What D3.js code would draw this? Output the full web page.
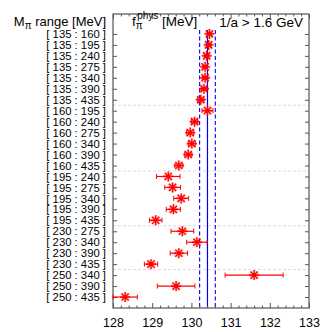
<!DOCTYPE html>
<html>
<head>
<meta charset="utf-8">
<script src="https://cdn.jsdelivr.net/npm/d3@7"></script>
<style>
body { margin: 0; background: #fff; }
text { font-family: "Liberation Sans", Arial, sans-serif; fill: #000; }
</style>
</head>
<body>
<svg id="chart" width="332" height="332"></svg>
<script>
// pion mass ranges [MeV], one row each
var lowMass  = [135,135,135,135,135,135,135,160,160,160,160,160,160,195,195,195,195,195,230,230,230,230,250,250,250];
var highMass = [160,195,240,275,340,390,435,195,240,275,340,390,435,240,275,340,390,435,275,340,390,435,340,390,435];

// f_pi^phys results and errors [MeV]
var fpi    = [130.46,130.44,130.39,130.35,130.35,130.32,130.24,130.41,130.08,129.97,130.01,129.92,129.68,
              129.41,129.52,129.74,129.54,129.09,129.77,130.14,129.68,128.97,131.60,129.61,128.31];
var fpiErr = [0.06,0.06,0.06,0.06,0.07,0.07,0.08,0.14,0.08,0.09,0.09,0.09,0.10,
              0.30,0.20,0.19,0.18,0.16,0.29,0.26,0.22,0.17,0.74,0.48,0.31];

var xTicks = [128,129,130,131,132,133];
var groupBreaks = [6.5,12.5,17.5,21.5];  // dashed separators between mass groups

var band = {mid: 130.41, err: 0.20};

var svg = d3.select("#chart");
var margin = {top: 14, right: 23, bottom: 24, left: 113};
var W = 332, H = 332;

var x = d3.scaleLinear().domain([128,133]).range([margin.left, W - margin.right]);
var y = d3.scaleLinear().domain([-1.82, 25.0]).range([margin.top, H - margin.bottom]);

var rows = fpi.map(function(v, i) {
    return {i: i, v: v, e: fpiErr[i], lo: lowMass[i], hi: highMass[i]};
});

// group separators
svg.selectAll(".sep")
    .data(groupBreaks)
    .enter().append("line")
    .attr("x1", x(128)).attr("x2", x(133))
    .attr("y1", function(d) { return y(d); })
    .attr("y2", function(d) { return y(d); })
    .attr("stroke", "#d0d0d0")
    .attr("stroke-width", 0.8)
    .style("stroke-dasharray", "3,2");

// physical value band
svg.append("line")
    .attr("x1", x(band.mid)).attr("x2", x(band.mid))
    .attr("y1", y(-0.35)).attr("y2", y(25))
    .attr("stroke", "#0000ff").attr("stroke-width", 1.2);
[band.mid - band.err, band.mid + band.err].forEach(function(v) {
    svg.append("line")
        .attr("x1", x(v)).attr("x2", x(v))
        .attr("y1", y(-0.35)).attr("y2", y(25))
        .attr("stroke", "#0000ff").attr("stroke-width", 1.1)
        .style("stroke-dasharray", "4,2.5");
});

// frame
svg.append("rect")
    .attr("x", x(128)).attr("y", margin.top)
    .attr("width", x(133) - x(128)).attr("height", H - margin.bottom - margin.top)
    .attr("fill", "none").attr("stroke", "#555").attr("stroke-width", 1.2);

// x axis bottom + top, ticks inward
var xAxisB = d3.axisBottom(x).tickValues(xTicks).tickFormat(d3.format("d")).tickSizeInner(-5).tickSizeOuter(0).tickPadding(10);
var gx = svg.append("g").attr("transform", "translate(0," + (H - margin.bottom) + ")").call(xAxisB);
gx.select(".domain").remove();
gx.selectAll("text").style("font-size", "12.5px").style("font-family", "Liberation Sans, Arial, sans-serif");
gx.selectAll("line").attr("stroke", "#555");

var minor = d3.range(128, 133.001, 0.2).filter(function(d) { return Math.abs(d - Math.round(d)) > 0.01; });
svg.append("g").attr("transform", "translate(0," + (H - margin.bottom) + ")")
    .call(d3.axisBottom(x).tickValues(minor).tickFormat("").tickSizeInner(-2.5).tickSizeOuter(0))
    .call(function(g) { g.select(".domain").remove(); g.selectAll("line").attr("stroke", "#555"); });

svg.append("g").attr("transform", "translate(0," + margin.top + ")")
    .call(d3.axisTop(x).tickValues(xTicks).tickFormat("").tickSizeInner(-5).tickSizeOuter(0))
    .call(function(g) { g.select(".domain").remove(); g.selectAll("line").attr("stroke", "#555"); });
svg.append("g").attr("transform", "translate(0," + margin.top + ")")
    .call(d3.axisTop(x).tickValues(minor).tickFormat("").tickSizeInner(-2.5).tickSizeOuter(0))
    .call(function(g) { g.select(".domain").remove(); g.selectAll("line").attr("stroke", "#555"); });

// y axis left with labels, right with ticks only
var rowIdx = d3.range(rows.length);
var gy = svg.append("g").attr("transform", "translate(" + margin.left + ",0)")
    .call(d3.axisLeft(y).tickValues(rowIdx)
        .tickFormat(function(i) { return "[ " + lowMass[i] + " : " + highMass[i] + " ]"; })
        .tickSizeInner(-4).tickSizeOuter(0).tickPadding(7));
gy.select(".domain").remove();
gy.selectAll("line").attr("stroke", "#555");
gy.selectAll("text").style("font-size", "11.3px").style("font-family", "Liberation Sans, Arial, sans-serif");

svg.append("g").attr("transform", "translate(" + (W - margin.right) + ",0)")
    .call(d3.axisRight(y).tickValues(rowIdx).tickFormat("").tickSizeInner(-4).tickSizeOuter(0))
    .call(function(g) { g.select(".domain").remove(); g.selectAll("line").attr("stroke", "#555"); });

// error bars
var eb = svg.selectAll(".eb").data(rows).enter().append("g").attr("class", "eb");
eb.append("line")
    .attr("x1", function(d) { return x(d.v - d.e); })
    .attr("x2", function(d) { return x(d.v + d.e); })
    .attr("y1", function(d) { return y(d.i); })
    .attr("y2", function(d) { return y(d.i); })
    .attr("stroke", "#ff0000").attr("stroke-width", 1.2);
[-1, 1].forEach(function(s) {
    eb.append("line")
        .attr("x1", function(d) { return x(d.v + s * d.e); })
        .attr("x2", function(d) { return x(d.v + s * d.e); })
        .attr("y1", function(d) { return y(d.i) - 2.5; })
        .attr("y2", function(d) { return y(d.i) + 2.5; })
        .attr("stroke", "#ff0000").attr("stroke-width", 1);
});

// star markers (plus + cross)
var r = 5, q = r * 0.72;
var starPath = "M" + (-r) + ",0L" + r + ",0M0," + (-r) + "L0," + r +
               "M" + (-q) + "," + (-q) + "L" + q + "," + q + "M" + (-q) + "," + q + "L" + q + "," + (-q);
var pts = svg.selectAll(".pt").data(rows).enter().append("g")
    .attr("transform", function(d) { return "translate(" + x(d.v) + "," + y(d.i) + ")"; });
pts.append("path").attr("d", starPath).attr("stroke", "rgba(255,0,0,0.25)").attr("stroke-width", 2.8).attr("fill", "none");
pts.append("path").attr("d", starPath).attr("stroke", "#ff0000").attr("stroke-width", 1.3).attr("fill", "none");
pts.append("circle").attr("r", 1.8).attr("fill", "#ff0000");

// header texts
var hdr = svg.append("text").attr("x", 106).attr("y", 25.5).attr("text-anchor", "end").style("font-size", "13px");
hdr.append("tspan").text("M");
hdr.append("tspan").attr("dy", 3).style("font-size", "10px").text("π");
hdr.append("tspan").attr("dy", -3).text(" range [MeV]");

var f = svg.append("text").attr("x", 132).attr("y", 26).style("font-size", "13.5px");
f.append("tspan").text("f");
f.append("tspan").attr("dy", 3).style("font-size", "10px").text("π");
f.append("tspan").attr("dx", -5.5).attr("dy", -10).style("font-size", "10px").text("phys");
f.append("tspan").attr("dy", 7).text(" [MeV]");

svg.append("text").attr("x", 303).attr("y", 26.5).attr("text-anchor", "end").style("font-size", "13.5px")
    .text("1/a > 1.6 GeV");
</script>
</body>
</html>
